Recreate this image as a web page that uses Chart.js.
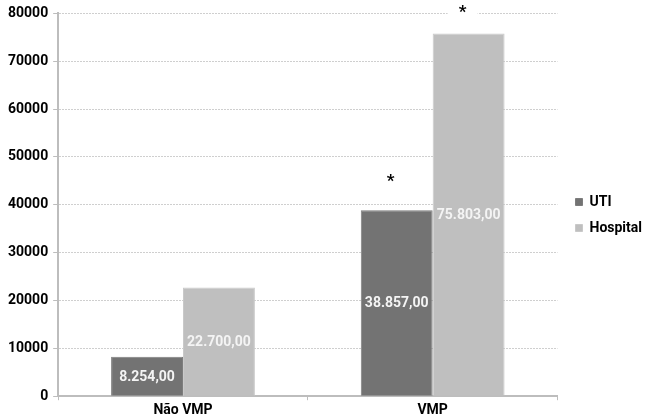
<!DOCTYPE html>
<html>
<head>
<meta charset="utf-8">
<script src="https://cdn.jsdelivr.net/npm/chart.js@4/dist/chart.umd.min.js"></script>
<style>
  html, body { margin: 0; padding: 0; background: #fff; }
  #wrap { width: 646px; height: 420px; position: relative; }
</style>
</head>
<body>
<div id="wrap"><canvas id="c"></canvas></div>
<script>
// Categories and series
const categories = ['Não VMP', 'VMP'];
const seriesNames = ['UTI', 'Hospital'];
const utiValues = [8254, 38857];
const hospitalValues = [22700, 75803];
// statistical significance markers (one flag per category)
const utiSignificant = [false, true];
const hospitalSignificant = [false, true];
// y-axis ticks
const yTicks = [0, 10000, 20000, 30000, 40000, 50000, 60000, 70000, 80000];

const FONT = "Roboto, 'Liberation Sans', sans-serif";

function formatBR(v) {
  const parts = v.toFixed(2).split('.');
  const intPart = parts[0].replace(/\B(?=(\d{3})+(?!\d))/g, '.');
  return intPart + ',' + parts[1];
}

// value labels centred inside each bar, plus asterisks above flagged bars
const barExtras = {
  id: 'barExtras',
  afterLayout(chart) {
    // push the legend a little further from the plot area
    const shift = 6;
    chart.legend.left += shift;
    chart.legend.right += shift;
  },
  afterDatasetsDraw(chart) {
    const ctx = chart.ctx;
    ctx.save();
    chart.data.datasets.forEach((ds, di) => {
      const meta = chart.getDatasetMeta(di);
      meta.data.forEach((bar, i) => {
        const v = ds.data[i];
        const yTop = bar.y, yBase = bar.base;
        ctx.font = "bold 14px " + FONT;
        ctx.fillStyle = '#f4f4f4';
        ctx.textAlign = 'center';
        ctx.textBaseline = 'middle';
        ctx.fillText(formatBR(v), bar.x, (yTop + yBase) / 2 + 1);
        if (ds.significant[i]) {
          const ay = yTop - ds.starOffset;
          const ax = bar.x - 6;
          ctx.fillStyle = '#ffffff';
          ctx.fillRect(ax - 15, ay - 8, 30, 16);
          ctx.fillStyle = '#000000';
          ctx.font = "bold 17px " + FONT;
          ctx.fillText('*', ax, ay + 3);
        }
      });
    });
    ctx.restore();
  }
};

new Chart(document.getElementById('c'), {
  type: 'bar',
  data: {
    labels: categories,
    datasets: [
      {
        label: seriesNames[0],
        data: utiValues,
        significant: utiSignificant,
        starOffset: 32,
        backgroundColor: '#737373',
        borderColor: '#7d7d7d',
        borderWidth: 1
      },
      {
        label: seriesNames[1],
        data: hospitalValues,
        significant: hospitalSignificant,
        starOffset: 24,
        backgroundColor: '#bfbfbf',
        borderColor: '#c9c9c9',
        borderWidth: 1
      }
    ]
  },
  options: {
    responsive: true,
    maintainAspectRatio: false,
    animation: false,
    layout: { padding: { top: 9, right: 0, left: 3, bottom: -1 } },
    datasets: {
      bar: { barPercentage: 1.0, categoryPercentage: 0.576 }
    },
    plugins: {
      legend: {
        position: 'right',
        labels: {
          boxWidth: 7,
          boxHeight: 7,
          padding: 12,
          color: '#000',
          font: { family: FONT, size: 14, weight: 'bold' }
        }
      },
      tooltip: { enabled: false }
    },
    scales: {
      x: {
        offset: true,
        grid: {
          offset: true,
          drawOnChartArea: false,
          drawTicks: true,
          tickLength: 4,
          tickColor: '#bdbdbd',
          color: '#bdbdbd'
        },
        border: { color: '#bdbdbd', width: 2 },
        ticks: {
          color: '#000',
          padding: 2,
          font: { family: FONT, size: 14, weight: 'bold' }
        }
      },
      y: {
        min: 0,
        max: 80000,
        afterBuildTicks(scale) { scale.ticks = yTicks.map(v => ({ value: v })); },
        grid: {
          color: (c) => c.tick && c.tick.value === 0 ? 'rgba(0,0,0,0)' : '#cfcfcf',
          lineWidth: 1,
          tickLength: 5,
          tickColor: '#bdbdbd',
          tickBorderDash: []
        },
        border: { color: '#bdbdbd', width: 2, dash: [2, 1] },
        ticks: {
          color: '#000',
          padding: 5,
          font: { family: FONT, size: 14, weight: 'bold' },
          callback: (v) => String(v)
        }
      }
    }
  },
  plugins: [barExtras]
});
</script>
</body>
</html>
